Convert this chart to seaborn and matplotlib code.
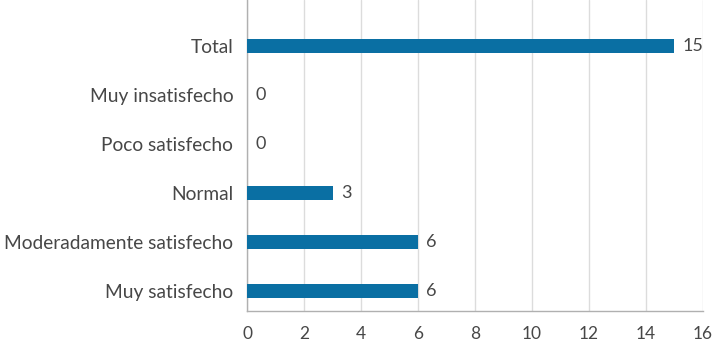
import pandas as pd
import numpy as np
import matplotlib
matplotlib.use('Agg')
import matplotlib.pyplot as plt
import seaborn as sns

# Data
categories = ['Total', 'Muy insatisfecho', 'Poco satisfecho', 'Normal',
              'Moderadamente satisfecho', 'Muy satisfecho']
values = [15, 0, 0, 3, 6, 6]

df = pd.DataFrame({'categoria': categories, 'valor': values})

sns.set_style('white')
plt.rcParams['font.family'] = ['Lato', 'DejaVu Sans']

text_color = '#474747'
bar_color = '#0a6fa3'

fig = plt.figure(figsize=(7.12, 3.43), dpi=100)
ax = fig.add_axes([0.347, 0.093, 0.640, 0.907])

sns.barplot(data=df, y='categoria', x='valor', orient='h', color=bar_color,
            width=0.3, saturation=1, linewidth=0, ax=ax, zorder=3)

# value labels
for i, v in enumerate(values):
    ax.text(v + 0.3, i, str(v), va='center', ha='left', fontsize=13,
            color=text_color)

ax.set_xlim(0, 16)
ax.set_xticks(np.arange(0, 17, 2))
ax.set_ylim(5.41, -0.94)
ax.set_xlabel('')
ax.set_ylabel('')

ax.grid(axis='x', color='#dcdcdc', linewidth=1, zorder=0)
ax.grid(axis='y', visible=False)
for s in ['top', 'right']:
    ax.spines[s].set_visible(False)
for s in ['left', 'bottom']:
    ax.spines[s].set_color('#b0b0b0')
    ax.spines[s].set_linewidth(1)

ax.tick_params(axis='x', colors='#b0b0b0', labelcolor=text_color,
               labelsize=12.5, length=4, pad=9, direction='inout')
ax.tick_params(axis='y', length=0, labelsize=13.8, labelcolor=text_color,
               pad=10)

fig.savefig('out.png', dpi=100)
